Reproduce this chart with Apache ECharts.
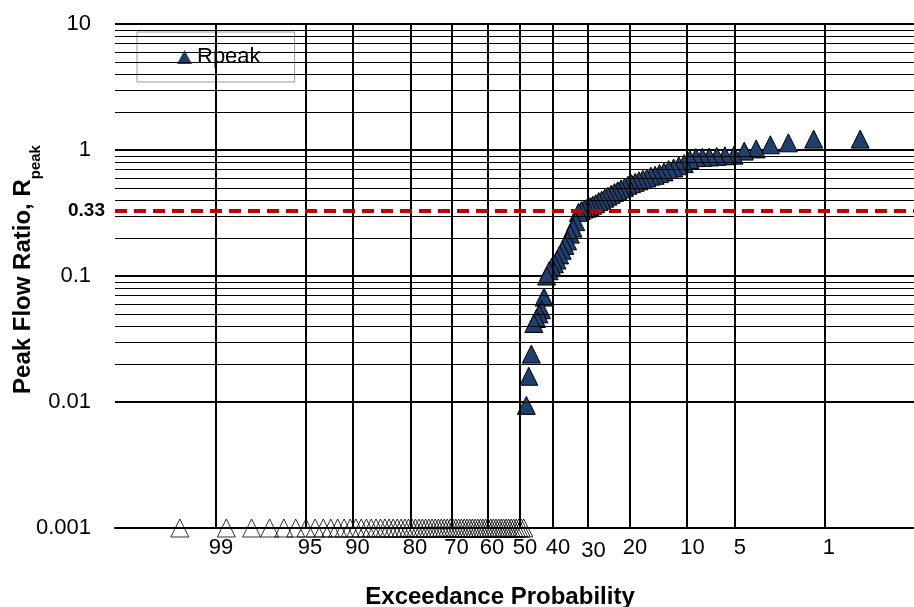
<!DOCTYPE html>
<html>
<head>
<meta charset="utf-8">
<script src="https://cdn.jsdelivr.net/npm/echarts@6/dist/echarts.min.js"></script>
<style>
  html, body { margin: 0; padding: 0; background: #ffffff; }
  #chart { width: 914px; height: 607px; }
</style>
</head>
<body>
<div id="chart"></div>
<script>
// Peak flow ratios of the events with flow, ranked from largest to smallest
const rpeakObserved = [
  1.22, 1.22, 1.14, 1.10, 1.02, 0.98, 0.91, 0.90, 0.89, 0.88,
  0.875, 0.87, 0.84, 0.78, 0.75, 0.72, 0.70, 0.67, 0.65, 0.63,
  0.62, 0.60, 0.585, 0.57, 0.555, 0.54, 0.525, 0.505, 0.49, 0.475,
  0.46, 0.445, 0.43, 0.415, 0.40, 0.39, 0.375, 0.365, 0.355, 0.345,
  0.34, 0.33, 0.32, 0.27, 0.24, 0.215, 0.19, 0.175, 0.16, 0.147,
  0.134, 0.125, 0.118, 0.11, 0.10, 0.068, 0.054, 0.05, 0.046, 0.042,
  0.024, 0.016, 0.0094
];

// Events without peak flow, shown on the lower bound of the axis (0.001)
const rpeakAtFloor = [
  0.001, 0.001, 0.001, 0.001, 0.001, 0.001, 0.001, 0.001, 0.001, 0.001,
  0.001, 0.001, 0.001, 0.001, 0.001, 0.001, 0.001, 0.001, 0.001, 0.001,
  0.001, 0.001, 0.001, 0.001, 0.001, 0.001, 0.001, 0.001, 0.001, 0.001,
  0.001, 0.001, 0.001, 0.001, 0.001, 0.001, 0.001, 0.001, 0.001, 0.001,
  0.001, 0.001, 0.001, 0.001, 0.001, 0.001, 0.001, 0.001, 0.001, 0.001,
  0.001, 0.001, 0.001, 0.001, 0.001, 0.001, 0.001, 0.001, 0.001, 0.001,
  0.001, 0.001, 0.001, 0.001, 0.001, 0.001, 0.001
];

// Exceedance probability ticks (percent)
const probTicks = [99, 95, 90, 80, 70, 60, 50, 40, 30, 20, 10, 5, 1];

// Reference ratio
const thresholdRatio = 0.33;

// Inverse standard normal CDF (Acklam's rational approximation)
function normInv(p) {
  const a = [-3.969683028665376e+01, 2.209460984245205e+02, -2.759285104469687e+02,
             1.383577518672690e+02, -3.066479806614716e+01, 2.506628277459239e+00];
  const b = [-5.447609879822406e+01, 1.615858368580409e+02, -1.556989798598866e+02,
             6.680131188771972e+01, -1.328068155288572e+01];
  const c = [-7.784894002430293e-03, -3.223964580411365e-01, -2.400758277161838e+00,
             -2.549671035506888e+00, 4.374664141464968e+00, 2.938163982698783e+00];
  const d = [7.784695709041462e-03, 3.224671290700398e-01, 2.445134137142996e+00,
             3.754408661907416e+00];
  const pl = 0.02425, ph = 1 - pl;
  let q, r;
  if (p < pl) {
    q = Math.sqrt(-2 * Math.log(p));
    return (((((c[0]*q+c[1])*q+c[2])*q+c[3])*q+c[4])*q+c[5]) /
           ((((d[0]*q+d[1])*q+d[2])*q+d[3])*q+1);
  }
  if (p > ph) {
    q = Math.sqrt(-2 * Math.log(1 - p));
    return -(((((c[0]*q+c[1])*q+c[2])*q+c[3])*q+c[4])*q+c[5]) /
            ((((d[0]*q+d[1])*q+d[2])*q+d[3])*q+1);
  }
  q = p - 0.5; r = q * q;
  return (((((a[0]*r+a[1])*r+a[2])*r+a[3])*r+a[4])*r+a[5])*q /
         (((((b[0]*r+b[1])*r+b[2])*r+b[3])*r+b[4])*r+1);
}

// Normal-probability position of an exceedance probability (fraction)
const probToZ = (pExceed) => normInv(1 - pExceed);

// Cunnane plotting positions over the whole record
const nEvents = rpeakObserved.length + rpeakAtFloor.length;
const plotPos = (rank) => (rank - 0.4) / (nEvents + 0.2);

const observedPoints = rpeakObserved.map((v, i) => [probToZ(plotPos(i + 1)), v]);
const floorPoints = rpeakAtFloor.map((v, i) =>
  [probToZ(plotPos(rpeakObserved.length + i + 1)), v]);

const tickZ = probTicks.map(p => probToZ(p / 100));

// Grid lines: probability verticals and log minor horizontals (2..9 per decade)
const gridLines = [];
tickZ.forEach(z => gridLines.push({ xAxis: z, lineStyle: { width: 2 } }));
for (let e = -3; e < 1; e++) {
  for (let k = 2; k <= 9; k++) {
    gridLines.push({ yAxis: k * Math.pow(10, e), lineStyle: { width: 1 } });
  }
}

const FONT = '"Liberation Sans", Arial, sans-serif';

const chart = echarts.init(document.getElementById('chart'));
chart.setOption({
  animation: false,
  backgroundColor: '#ffffff',
  textStyle: { fontFamily: FONT, color: '#000' },
  grid: { left: 115, top: 24, width: 810, bottom: 79, containLabel: false, outerBoundsMode: 'none' },
  legend: {
    data: ['Rpeak'],
    left: 137, top: 32,
    padding: [14, 34, 14, 40],
    backgroundColor: '#ffffff',
    borderColor: '#9a9a9a', borderWidth: 1,
    icon: 'triangle',
    itemWidth: 15, itemHeight: 14,
    itemStyle: { borderWidth: 0 },
    textStyle: { fontFamily: FONT, fontSize: 22, color: '#000' }
  },
  xAxis: {
    type: 'value',
    min: -3.1, max: 3.1,
    name: 'Exceedance Probability',
    nameLocation: 'middle',
    nameGap: 57,
    nameMoveOverlap: false,
    nameTextStyle: { fontFamily: FONT, fontSize: 24, fontWeight: 'bold', color: '#000',
                     padding: [0, 40, 0, 0] },
    axisLine: { show: true, onZero: false, lineStyle: { color: '#000', width: 2 } },
    axisTick: { show: false, customValues: tickZ },
    splitLine: { show: false },
    axisLabel: {
      customValues: tickZ,
      margin: 9,
      fontFamily: FONT, fontSize: 22, color: '#000',
      formatter: (val) => {
        let best = 0;
        tickZ.forEach((z, i) => { if (Math.abs(z - val) < Math.abs(tickZ[best] - val)) best = i; });
        const t = String(probTicks[best]);
        return t === '30' ? '{lo|' + t + '}' : '{n|' + t + '}';
      },
      rich: {
        n: { fontFamily: FONT, fontSize: 22, color: '#000', padding: [0, 0, 0, 10] },
        lo: { fontFamily: FONT, fontSize: 22, color: '#000', padding: [3, 0, 0, 10] }
      }
    }
  },
  yAxis: {
    type: 'log',
    logBase: 10,
    min: 0.001, max: 10,
    name: '{m|Peak Flow Ratio, R}{s|peak}',
    nameLocation: 'middle',
    nameRotate: 90,
    nameGap: 72,
    nameMoveOverlap: false,
    nameTextStyle: {
      fontFamily: FONT, fontWeight: 'bold', color: '#000',
      padding: [0, 0, 0, 13],
      rich: {
        m: { fontFamily: FONT, fontSize: 24, fontWeight: 'bold', color: '#000',
             lineHeight: 24, verticalAlign: 'top' },
        s: { fontFamily: FONT, fontSize: 15, fontWeight: 'bold', color: '#000',
             lineHeight: 32, verticalAlign: 'bottom' }
      }
    },
    axisLine: { show: true, lineStyle: { color: '#000', width: 2 } },
    axisTick: { show: true, inside: false, length: 7, lineStyle: { color: '#000', width: 2 } },
    splitLine: { show: true, lineStyle: { color: '#000', width: 2 } },
    minorTick: { show: false },
    minorSplitLine: { show: false },
    axisLabel: {
      margin: 24,
      fontFamily: FONT, fontSize: 22, color: '#000',
      formatter: (v) => String(+v.toPrecision(3))
    }
  },
  series: [
    {
      name: 'gridlines',
      type: 'line',
      data: [],
      z: 1,
      silent: true,
      markLine: {
        silent: true,
        symbol: ['none', 'none'],
        label: { show: false },
        lineStyle: { color: '#000', type: 'solid' },
        data: gridLines
      }
    },
    {
      name: 'threshold',
      type: 'line',
      data: [],
      z: 2,
      silent: true,
      markLine: {
        silent: true,
        symbol: ['none', 'none'],
        lineStyle: { color: '#C00000', width: 4, type: [12, 7] },
        label: {
          show: true, position: 'start', distance: 10,
          formatter: String(thresholdRatio),
          fontFamily: FONT, fontSize: 19, fontWeight: 'bold', color: '#000'
        },
        data: [{ yAxis: thresholdRatio }]
      }
    },
    {
      name: 'Rpeak (zero)',
      type: 'scatter',
      z: 3,
      symbol: 'triangle',
      symbolSize: [18, 18],
      itemStyle: { color: 'rgba(0,0,0,0)', borderColor: '#000', borderWidth: 1 },
      data: floorPoints
    },
    {
      name: 'Rpeak',
      type: 'scatter',
      z: 4,
      symbol: 'triangle',
      symbolSize: [18, 18],
      itemStyle: { color: '#1F3F6E', borderColor: '#000', borderWidth: 1, opacity: 1 },
      data: observedPoints
    }
  ]
});
</script>
</body>
</html>
